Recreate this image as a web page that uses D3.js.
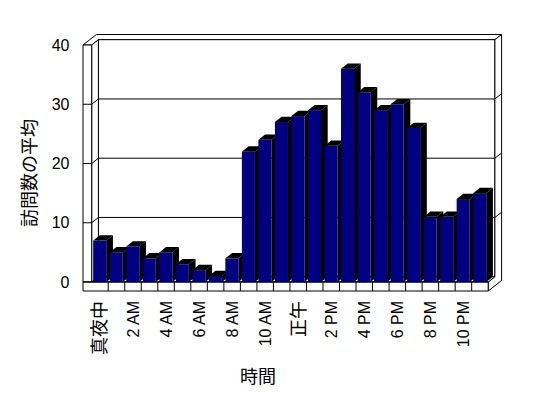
<!DOCTYPE html>
<html><head><meta charset="utf-8">
<script src="https://cdn.jsdelivr.net/npm/d3@7"></script>
<style>body{margin:0;background:#fff}svg{display:block}</style>
</head><body>
<script>
const categories = ["真夜中","1 AM","2 AM","3 AM","4 AM","5 AM","6 AM","7 AM","8 AM","9 AM","10 AM","11 AM",
  "正午","1 PM","2 PM","3 PM","4 PM","5 PM","6 PM","7 PM","8 PM","9 PM","10 PM","11 PM"];
const values = [7,5,6,4,5,3,2,1,4,22,24,27,28,29,23,36,32,29,30,26,11,11,14,15];
const yTicks = [0,10,20,30,40];
const xTickLabels = ["真夜中","2 AM","4 AM","6 AM","8 AM","10 AM","正午","2 PM","4 PM","6 PM","8 PM","10 PM"];
const yTitle = "訪問数の平均";
const xTitle = "時間";

const W = 548, H = 398;
const FONT = "'Liberation Sans','Noto Sans CJK JP',sans-serif";
const svg = d3.select("body").append("svg").attr("width", W).attr("height", H);

const x = d3.scaleBand().domain(categories).range([91.7, 488.2]);
const y = d3.scaleLinear().domain([0, 40]).range([282, 45]);
const bw = x.bandwidth();
const dx = 6.7, dy = -5.3;   // depth of plot (front -> back wall inner face)
const tx = 6.7, ty = -5.2;   // back wall thickness
const wallL = 83, floorB = 291;
const X0 = x.range()[0], X1 = x.range()[1], Y0 = y(0), YT = y(40);

const line = d3.line();
const frame = svg.append("g").attr("fill", "#fff").attr("stroke", "#000").attr("stroke-width", 1);
const poly = (g, pts, fill) => g.append("path").attr("d", line(pts) + "Z").attr("fill", fill || "#fff");

// top of left wall + back wall
poly(frame, [[wallL,YT],[X0,YT],[X0+dx,YT+dy],[X1+dx,YT+dy],[X1+dx+tx,YT+dy+ty],[wallL+dx+tx,YT+dy+ty]]);
// back wall inner face
poly(frame, [[X0+dx,YT+dy],[X1+dx,YT+dy],[X1+dx,Y0+dy],[X0+dx,Y0+dy]]);
// left wall inner face
poly(frame, [[X0,YT],[X0+dx,YT+dy],[X0+dx,Y0+dy],[X0,Y0]]);
// left wall front face
poly(frame, [[wallL,YT],[X0,YT],[X0,Y0],[wallL,Y0]]);
// right side (back wall + floor)
poly(frame, [[X1+dx,YT+dy],[X1+dx+tx,YT+dy+ty],[X1+dx+tx,floorB+dy+ty],[X1,floorB],[X1,Y0],[X1+dx,Y0+dy]]);
// floor top
poly(frame, [[X0,Y0],[X1,Y0],[X1+dx,Y0+dy],[X0+dx,Y0+dy]]);
// floor front
poly(frame, [[wallL,Y0],[X1,Y0],[X1,floorB],[wallL,floorB]]);
// floor separators
categories.slice(1).forEach(c => {
  const xx = x(c);
  frame.append("path").attr("d", line([[xx,Y0],[xx,floorB]]));
});

// gridlines
yTicks.filter(v => v > 0 && v < 40).forEach(v => {
  const yy = y(v);
  frame.append("path").attr("fill","none").attr("d", line([[wallL,yy],[X0,yy],[X0+dx,yy+dy],[X1+dx,yy+dy],[X1+dx+tx,yy+dy+ty]]));
});

// bars
const bars = svg.append("g");
categories.forEach((c, i) => {
  const v = values[i];
  const f0 = x(c) + bw * 0.09, f1 = x(c) + bw * 0.88, top = y(v);
  poly(bars, [[f1,top],[f1+dx,top+dy],[f1+dx,Y0+dy],[f1,Y0]], "#000").attr("stroke","none");
  poly(bars, [[f0,top],[f1,top],[f1+dx,top+dy],[f0+dx,top+dy]], "#000").attr("stroke","none");
  bars.append("rect").attr("x", f0).attr("y", top).attr("width", f1 - f0).attr("height", Y0 - top).attr("fill", "#000080");
});
svg.append("path").attr("d", line([[wallL,Y0],[X1,Y0]])).attr("stroke","#000").attr("fill","none");

// y tick labels
svg.append("g").selectAll("text").data(yTicks).join("text")
  .attr("x", 69.5).attr("y", d => y(d)).attr("dy", "0.35em")
  .attr("text-anchor", "end").attr("font-family", FONT).attr("font-size", 16).text(d => d);

// x tick labels
const isCJK = s => /[\u3000-\u9fff]/.test(s);
svg.append("g").selectAll("text").data(xTickLabels).join("text")
  .attr("transform", d => `translate(${x(d) + bw/2},301) rotate(-90)`)
  .attr("dy", "0.35em").attr("text-anchor", "end")
  .attr("font-family", FONT).attr("font-size", d => isCJK(d) ? 18 : 16).text(d => d);

// titles
svg.append("text").attr("transform", "translate(30,173) rotate(-90)").attr("dy","0.35em")
  .attr("text-anchor","middle").attr("font-family", FONT).attr("font-size", 18).text(yTitle);
svg.append("text").attr("x", 258).attr("y", 377).attr("dy","0.35em")
  .attr("text-anchor","middle").attr("font-family", FONT).attr("font-size", 18).text(xTitle);
</script>
</body></html>
